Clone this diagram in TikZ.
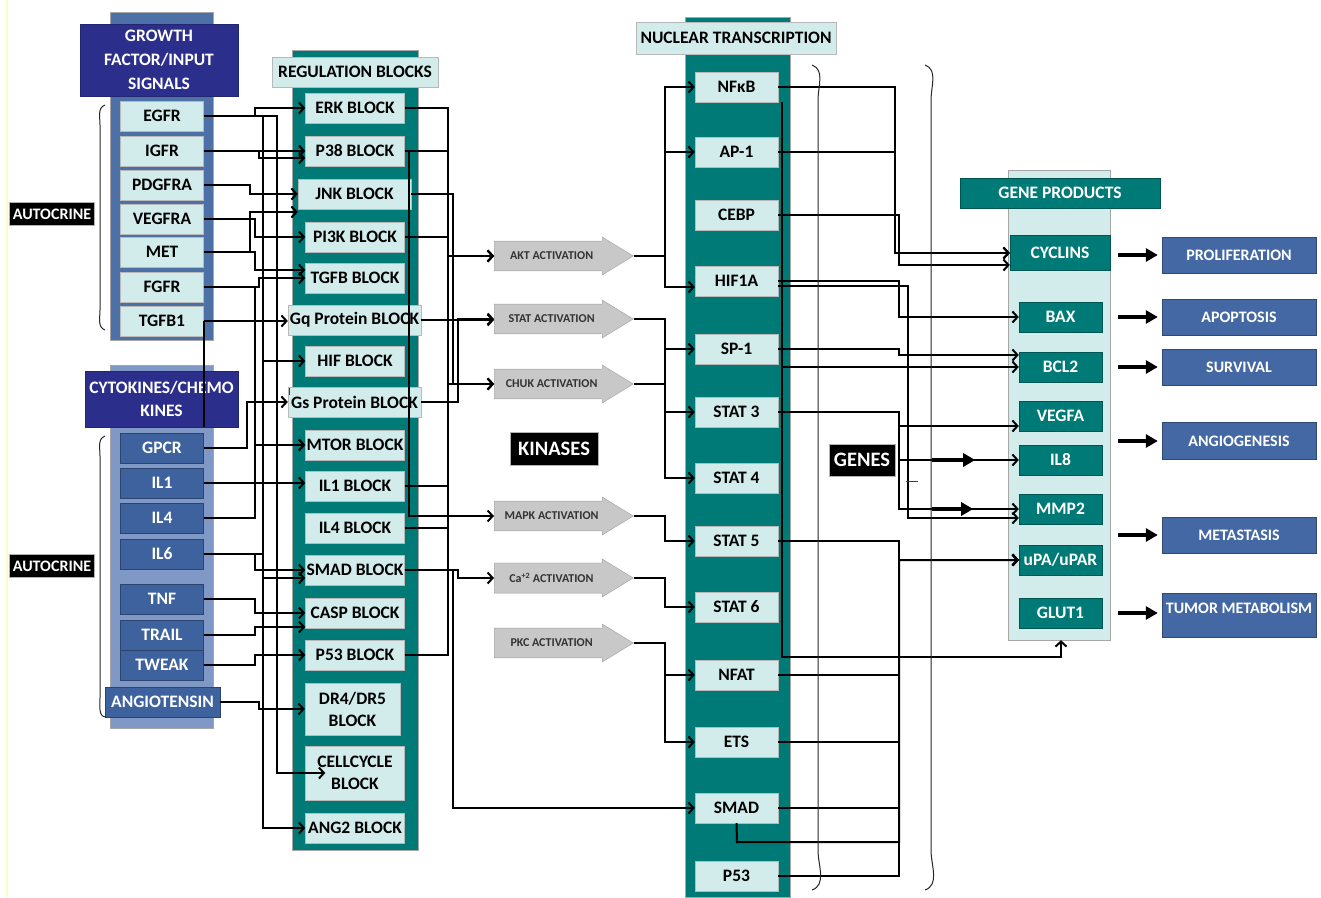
\documentclass[tikz,border=0pt]{standalone}
\usepackage{fontspec}
\setmainfont{Carlito}
\usetikzlibrary{arrows.meta,shapes.arrows}
\definecolor{tealcol}{RGB}{0,122,118}
\definecolor{lcyan}{RGB}{210,236,236}
\definecolor{navyhd}{RGB}{44,46,140}
\definecolor{gfblue}{RGB}{77,112,166}
\definecolor{ckbg}{RGB}{128,152,198}
\definecolor{ckitem}{RGB}{62,98,158}
\definecolor{outblue}{RGB}{68,104,164}
\definecolor{kgray}{RGB}{200,200,200}
\begin{document}
\begin{tikzpicture}[
	x=1pt, y=-1pt,
	font=\bfseries\fontsize{17.5}{19}\selectfont,
	colbg/.style={draw=gray!70, inner sep=0pt},
	lbox/.style={draw=gray!55, fill=lcyan, minimum width=83pt, minimum height=30pt, inner sep=1pt},
	rbox/.style={lbox, minimum width=99pt},
	cbox/.style={draw=ckitem!70!black, fill=ckitem, text=white, minimum width=83pt, minimum height=30pt, inner sep=1pt},
	gbox/.style={draw=tealcol!70!black, fill=tealcol, text=white, minimum width=83pt, minimum height=30pt, inner sep=1pt},
	obox/.style={draw=outblue!70!black, fill=outblue, text=white, minimum width=154pt, minimum height=36pt, inner sep=1pt, font=\bfseries\fontsize{16}{18}\selectfont},
	navybox/.style={draw=navyhd!80!black, fill=navyhd, text=white, align=center, inner sep=1pt},
	tag/.style={draw=gray!60, fill=black, text=white, inner sep=2pt},
	kin/.style={single arrow, anchor=tail, draw=gray!75, fill=kgray, text=black!80, minimum height=139pt, minimum width=38pt, single arrow head extend=4pt, single arrow tip angle=63, inner xsep=1pt, inner ysep=10pt, font=\bfseries\fontsize{12}{13}\selectfont},
	wire/.style={line width=2pt},
	arr/.style={wire, -{Straight Barb[length=5pt,width=11pt]}},
	fat/.style={line width=4pt, -{Triangle[length=12pt,width=13pt]}},
	brk/.style={line width=1pt, black!85},
	]
\useasboundingbox (0,0) rectangle (1321,897);
\draw[yellow!25, line width=2pt] (7,0) -- (7,897);

% columns
\node[colbg, fill=gfblue, minimum width=103pt, minimum height=328pt] (gfcol) at (161.5,176) {};
\node[colbg, fill=ckbg, minimum width=103pt, minimum height=363pt] (ckcol) at (161.5,546.5) {};
\node[colbg, fill=tealcol, minimum width=126pt, minimum height=800pt] (regcol) at (355,450) {};
\node[colbg, fill=tealcol, minimum width=105pt, minimum height=880pt] (nuccol) at (737.5,457) {};
\node[colbg, fill=lcyan, minimum width=102pt, minimum height=470pt] (gpbg) at (1059,405) {};

% headers
\node[navybox, minimum width=158pt, minimum height=72pt, font=\bfseries\fontsize{17.5}{24}\selectfont] (gfhead) at (159,60) {GROWTH\\FACTOR/INPUT\\SIGNALS};
\node[navybox, minimum width=153pt, minimum height=56pt, font=\bfseries\fontsize{17.5}{23}\selectfont] (ckhead) at (161.5,399) {CYTOKINES/CHEMO\\KINES};
\node[lbox, minimum width=166pt] (reghead) at (355,72) {REGULATION BLOCKS};
\node[lbox, minimum width=200pt, minimum height=32pt] (nuchead) at (736,38) {NUCLEAR TRANSCRIPTION};
\node[gbox, minimum width=200pt] (gphead) at (1060,193) {GENE PRODUCTS};

\node[tag, minimum width=85pt, minimum height=23pt, font=\bfseries\fontsize{16}{17}\selectfont] (auto1) at (52,214) {AUTOCRINE};
\node[tag, minimum width=85pt, minimum height=23pt, font=\bfseries\fontsize{16}{17}\selectfont] (auto2) at (52,566) {AUTOCRINE};
\node[tag, minimum width=88pt, minimum height=33pt, font=\bfseries\fontsize{20.5}{22}\selectfont] (kinases) at (554,449) {KINASES};
\node[tag, minimum width=66pt, minimum height=32pt, font=\bfseries\fontsize{20.5}{22}\selectfont] (genes) at (862,460) {GENES};

% growth factors
\node[lbox] (egfr) at (162,116) {EGFR};
\node[lbox] (igfr) at (162,151) {IGFR};
\node[lbox] (pdgfra) at (162,185) {PDGFRA};
\node[lbox] (vegfra) at (162,219) {VEGFRA};
\node[lbox] (met) at (162,252) {MET};
\node[lbox] (fgfr) at (162,287) {FGFR};
\node[lbox] (tgfb1) at (162,321) {TGFB1};

% cytokines
\node[cbox] (gpcr) at (162,448) {GPCR};
\node[cbox] (il1) at (162,483) {IL1};
\node[cbox] (il4) at (162,518) {IL4};
\node[cbox] (il6) at (162,554) {IL6};
\node[cbox] (tnf) at (162,599) {TNF};
\node[cbox] (trail) at (162,635) {TRAIL};
\node[cbox] (tweak) at (162,665) {TWEAK};
\node[cbox, minimum width=115pt] (angio) at (162.5,702) {ANGIOTENSIN};

% regulation blocks
\node[rbox] (erk) at (355,108) {ERK BLOCK};
\node[rbox] (p38) at (355,151) {P38 BLOCK};
\node[rbox, minimum width=113pt] (jnk) at (354.5,194) {JNK BLOCK};
\node[rbox] (pi3k) at (355,237) {PI3K BLOCK};
\node[rbox] (tgfb) at (355,278) {TGFB BLOCK};
\node[rbox, minimum width=133pt] (gq) at (354.5,320) {Gq Protein BLOCK};
\node[rbox] (hif) at (355,361) {HIF BLOCK};
\node[rbox, minimum width=133pt] (gs) at (354.5,402) {Gs Protein BLOCK};
\node[rbox] (mtor) at (355,445) {MTOR BLOCK};
\node[rbox] (il1b) at (355,486) {IL1 BLOCK};
\node[rbox] (il4b) at (355,528) {IL4 BLOCK};
\node[rbox] (smadb) at (355,570) {SMAD BLOCK};
\node[rbox] (casp) at (355,613) {CASP BLOCK};
\node[rbox] (p53b) at (355,655) {P53 BLOCK};
\node[rbox, minimum width=95pt, minimum height=52pt, align=center, font=\bfseries\fontsize{17.5}{22}\selectfont] (dr4) at (352.5,709) {DR4/DR5\\BLOCK};
\node[rbox, minimum height=54pt, align=center, font=\bfseries\fontsize{17.5}{22}\selectfont] (cellcycle) at (355,773) {CELLCYCLE\\BLOCK};
\node[rbox] (ang2) at (355,828) {ANG2 BLOCK};

% kinases
\node[kin] (akt) at (494,256) {AKT ACTIVATION};
\node[kin] (stat) at (494,319) {STAT ACTIVATION};
\node[kin] (chuk) at (494,384) {CHUK ACTIVATION};
\node[kin] (mapk) at (494,516) {MAPK ACTIVATION};
\node[kin] (ca) at (494,578) {Ca\textsuperscript{+2} ACTIVATION};
\node[kin] (pkc) at (494,643) {PKC ACTIVATION};

% nuclear transcription
\node[lbox] (nfkb) at (736.5,87) {NFκB};
\node[lbox] (ap1) at (736.5,152) {AP-1};
\node[lbox] (cebp) at (736.5,215) {CEBP};
\node[lbox] (hif1a) at (736.5,281) {HIF1A};
\node[lbox] (sp1) at (736.5,349) {SP-1};
\node[lbox] (stat3) at (736.5,412) {STAT 3};
\node[lbox] (stat4) at (736.5,478) {STAT 4};
\node[lbox] (stat5) at (736.5,541) {STAT 5};
\node[lbox] (stat6) at (736.5,607) {STAT 6};
\node[lbox] (nfat) at (736.5,675) {NFAT};
\node[lbox] (ets) at (736.5,742) {ETS};
\node[lbox] (smadn) at (736.5,808) {SMAD};
\node[lbox] (p53n) at (736.5,876) {P53};

% gene products
\node[gbox, minimum width=100pt, minimum height=35pt] (cyclins) at (1060,253) {CYCLINS};
\node[gbox] (bax) at (1060.5,317) {BAX};
\node[gbox] (bcl2) at (1060.5,367) {BCL2};
\node[gbox] (vegfa) at (1060.5,416) {VEGFA};
\node[gbox] (il8) at (1060.5,460) {IL8};
\node[gbox] (mmp2) at (1060.5,509) {MMP2};
\node[gbox] (upa) at (1060.5,560) {uPA/uPAR};
\node[gbox] (glut1) at (1060.5,613) {GLUT1};

% outcomes
\node[obox] (prolif) at (1239,255) {PROLIFERATION};
\node[obox] (apopt) at (1239,317) {APOPTOSIS};
\node[obox] (surv) at (1239,367) {SURVIVAL};
\node[obox, minimum height=37pt] (angiog) at (1239,441) {ANGIOGENESIS};
\node[obox] (metas) at (1239,535) {METASTASIS};
\node[obox, minimum height=44pt, text depth=14pt] (tumor) at (1239,615) {TUMOR METABOLISM};

% bus lines
\coordinate (gA) at (250,0);
\coordinate (gB) at (255,0);
\coordinate (gC) at (259,0);
\coordinate (gD) at (263,0);
\coordinate (gE) at (277,0);
\coordinate (gF) at (247,0);
\coordinate (kA) at (448,0);
\coordinate (kB) at (453,0);
\coordinate (kC) at (458,0);
\coordinate (kD) at (409,0);
\coordinate (nA) at (665,0);
\coordinate (eA) at (782,0);
\coordinate (eB) at (895,0);
\coordinate (eC) at (899,0);
\coordinate (eD) at (908,0);
\coordinate (smadturn) at (737,842);
\coordinate (glutturn) at (1061,657);

% growth factors to blocks
\draw[arr] (egfr.east) -- (egfr.east -| gB) |- (erk.west);
\draw[arr] (egfr.east) -- (egfr.east -| gD) |- (hif.west);
\draw[arr] (egfr.east) -- (egfr.east -| gD) |- (ang2.west);
\draw[arr] (egfr.east) -- (egfr.east -| gE) |- ([xshift=20pt]cellcycle.west);
\draw[arr] (igfr.east) -- (igfr.east -| gA) |- (p38.west);
\draw[arr] (igfr.east) -- (igfr.east -| gC) |- ([yshift=-7pt]p38.west);
\draw[arr] (pdgfra.east) -- (pdgfra.east -| gA) |- (jnk.west);
\draw[arr] (vegfra.east) -- (vegfra.east -| gB) |- (pi3k.west);
\draw[arr] (met.east) -- (met.east -| gA) |- ([yshift=-18pt]jnk.west);
\draw[arr] (met.east) -- (met.east -| gB) |- ([yshift=8pt]tgfb.west);
\draw[arr] (fgfr.east) -- (fgfr.east -| gC) |- (tgfb.west);
\draw[arr] (fgfr.east) -- (fgfr.east -| gB) |- (mtor.west);
\draw[arr] (tgfb1.east) -- (tgfb1.east -| gq.west);
\draw[wire] (ckhead.south -| tgfb1.east) -- (tgfb1.east);

% cytokines to blocks
\draw[arr] (gpcr.east) -- (gpcr.east -| gF) |- (gs.west);
\draw[arr] (il1.east) -- (il1.east -| il1b.west);
\draw[arr] (il4.east) -- (il4.east -| gB) |- (mtor.west);
\draw[arr] (il6.east) -- (il6.east -| gB) |- (smadb.west);
\draw[arr] (il6.east) -- (il6.east -| gD) |- ([yshift=-8pt]smadb.west);
\draw[arr] (tnf.east) -- (tnf.east -| gB) |- (casp.west);
\draw[arr] (trail.east) -- (trail.east -| gB) |- ([yshift=-14pt]casp.west);
\draw[arr] (tweak.east) -- (tweak.east -| gB) |- (p53b.west);
\draw[arr] (angio.east) -- (angio.east -| gC) |- (dr4.west);

% blocks to kinases
\draw[arr] (erk.east) -- (erk.east -| kA) |- (akt.tail);
\draw[arr] (p38.east) -- (p38.east -| kA) |- (akt.tail);
\draw[arr] (pi3k.east) -- (pi3k.east -| kA) |- (akt.tail);
\draw[arr] (p53b.east) -- (p53b.east -| kA) |- (akt.tail);
\draw[arr] (jnk.east) -- (jnk.east -| kB) |- (chuk.tail);
\draw[arr] (il1b.east) -- (il1b.east -| kA) |- (chuk.tail);
\draw[arr] (il4b.east) -- (il4b.east -| kA) |- (chuk.tail);
\draw[arr] (gq.east) -- (gq.east -| stat.tail);
\draw[arr] (gs.east) -- (gs.east -| kC) |- (stat.tail);
\draw[arr] (p38.east) -- (p38.east -| kD) |- (mapk.tail);
\draw[arr] (smadb.east) -- (smadb.east -| kC) |- (ca.tail);
\draw[arr] (smadb.east) -- (smadb.east -| kB) |- (smadn.west);

% kinases to nuclear transcription
\draw[arr] (akt.tip) -- (akt.tip -| nA) |- (nfkb.west);
\draw[arr] (akt.tip) -- (akt.tip -| nA) |- (ap1.west);
\draw[arr] (akt.tip) -- (akt.tip -| nA) |- ([yshift=-6pt]hif1a.west);
\draw[arr] (stat.tip) -- (stat.tip -| nA) |- (sp1.west);
\draw[arr] (stat.tip) -- (stat.tip -| nA) |- (stat3.west);
\draw[arr] (chuk.tip) -- (chuk.tip -| nA) |- (stat4.west);
\draw[arr] (mapk.tip) -- (mapk.tip -| nA) |- (stat5.west);
\draw[arr] (ca.tip) -- (ca.tip -| nA) |- (stat6.west);
\draw[arr] (pkc.tip) -- (pkc.tip -| nA) |- (nfat.west);
\draw[arr] (pkc.tip) -- (pkc.tip -| nA) |- (ets.west);

% nuclear transcription to gene products
\draw[arr] (nfkb.east) -- (nfkb.east -| eB) |- (cyclins.west);
\draw[arr] (ap1.east) -- (ap1.east -| eB) |- (cyclins.west);
\draw[arr] (cebp.east) -- (cebp.east -| eC) |- ([yshift=-12pt]cyclins.west);
\draw[arr] (hif1a.east) -- (hif1a.east -| eC) |- (bax.west);
\draw[arr] ([yshift=-5pt]hif1a.east) -- ([yshift=-5pt]hif1a.east -| eD) |- ([yshift=-9pt]mmp2.west);
\draw[arr] (sp1.east) -- (sp1.east -| eC) |- ([yshift=12pt]bcl2.west);
\draw[arr] (nfkb.south -| eA) |- (bcl2.west);
\draw[arr] (stat3.east) -- (stat3.east -| eC) |- ([yshift=-10pt]vegfa.west);
\draw[arr] (stat3.east) -- (stat3.east -| eC) |- (il8.west);
\draw[arr] (stat3.east) -- (stat3.east -| eC) |- (mmp2.west);
\draw[arr] (stat5.east) -- (stat5.east -| eC) |- (upa.west);
\draw[arr] (nfat.east) -- (nfat.east -| eC) |- (upa.west);
\draw[arr] (ets.east) -- (ets.east -| eC) |- (upa.west);
\draw[arr] (smadn.east) -- (smadn.east -| eC) |- (upa.west);
\draw[arr] (smadn.south) -- (smadturn) -- (smadturn -| eC) |- (upa.west);
\draw[arr] (p53n.east) -- (p53n.east -| eC) |- (upa.west);
\draw[arr] (nfkb.south -| eA) |- (glutturn) -- (gpbg.south -| glutturn);
\draw[fat, line width=3.5pt] ([xshift=37pt]genes.east) -- ([xshift=80pt]genes.east);
\draw[fat, line width=3.5pt] ([xshift=37pt]genes.east |- mmp2.west) -- ([xshift=78pt]genes.east |- mmp2.west);
\draw[red!80!black, line width=1pt] (906,481) -- (918,481);
\draw[red!80!black, line width=1pt] (289,388) -- (289,395);

% gene products to outcomes
\draw[fat] ([xshift=8pt]gpbg.east |- prolif.west) -- ([xshift=-4pt]prolif.west);
\draw[fat] ([xshift=8pt]gpbg.east |- apopt.west) -- ([xshift=-4pt]apopt.west);
\draw[fat] ([xshift=8pt]gpbg.east |- surv.west) -- ([xshift=-4pt]surv.west);
\draw[fat] ([xshift=8pt]gpbg.east |- angiog.west) -- ([xshift=-4pt]angiog.west);
\draw[fat] ([xshift=8pt]gpbg.east |- metas.west) -- ([xshift=-4pt]metas.west);
\draw[fat] ([xshift=8pt]gpbg.east |- glut1.east) -- ([xshift=-4pt]tumor.west |- glut1.east);

% brackets
\draw[brk] (105,105) to[out=200,in=90] (100,125) -- (100,310) to[out=-90,in=160] (105,330);
\draw[brk] (105,436) to[out=200,in=90] (100,456) -- (100,698) to[out=-90,in=180] (106,717);
\draw[brk] (812,65) to[out=-20,in=90] (818,100) -- (818,850) to[out=-90,in=20] (812,890);
\draw[brk] (925,65) to[out=-20,in=90] (931,100) -- (931,850) to[out=-90,in=20] (925,890);
\end{tikzpicture}
\end{document}
